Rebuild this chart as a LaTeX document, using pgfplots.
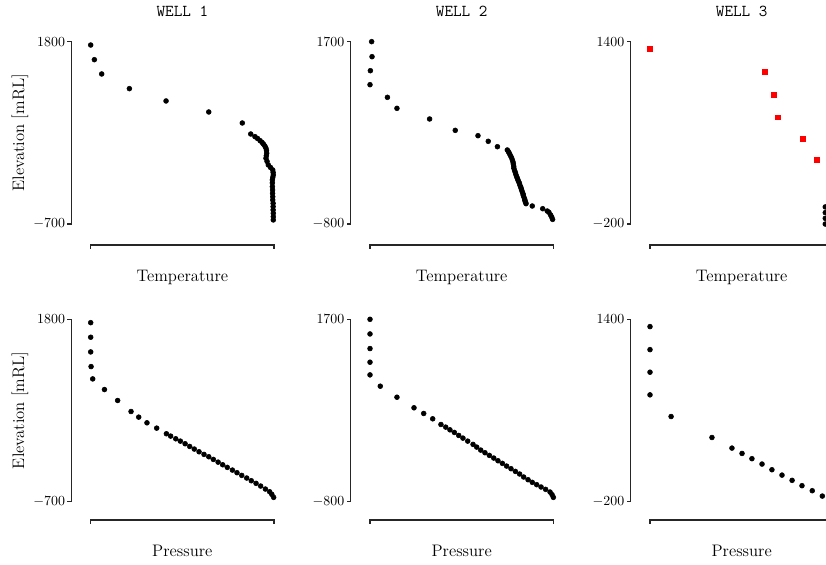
\documentclass[border=0pt]{standalone}
\usepackage{pgfplots}
\pgfplotsset{compat=1.18}
\pgfplotsset{
  wellaxis/.style={scale only axis, width=132pt, height=131.3pt, hide axis, clip=false,
    xmin=0, xmax=1, anchor=south west},
  dots/.style={only marks, mark=*, mark size=1.75pt, black},
  reddots/.style={only marks, mark=square*, mark size=1.7pt, red},
}
\tikzset{spine/.style={line width=0.8pt, black!85, line cap=rect}}
% #1 top tick label, #2 bottom tick label, #3 bottom spine offset, #4 x label
\newcommand\decor[4]{%
  \draw[spine] ([xshift=-14pt]rel axis cs:0,0) -- ([xshift=-14pt]rel axis cs:0,1);
  \draw[spine] ([xshift=-14pt]rel axis cs:0,1) -- ([xshift=-16.5pt]rel axis cs:0,1);
  \draw[spine] ([xshift=-14pt]rel axis cs:0,0) -- ([xshift=-16.5pt]rel axis cs:0,0);
  \node[anchor=east, inner sep=0pt] at ([xshift=-18.3pt]rel axis cs:0,1) {$#1$};
  \node[anchor=east, inner sep=0pt] at ([xshift=-18.3pt]rel axis cs:0,0) {$#2$};
  \draw[spine] ([yshift=-#3]rel axis cs:0,0) -- ([yshift=-#3]rel axis cs:1,0);
  \draw[spine] ([yshift=-#3]rel axis cs:0,0) -- ([yshift=-#3-2.5pt]rel axis cs:0,0);
  \draw[spine] ([yshift=-#3]rel axis cs:1,0) -- ([yshift=-#3-2.5pt]rel axis cs:1,0);
  \node[anchor=base, inner sep=0pt, font=\large] at ([yshift=-#3-26pt]rel axis cs:0.5,0) {#4};
}
\newcommand\wtitle[1]{\node[anchor=base, inner sep=0pt, font=\large\ttfamily] at ([yshift=18pt]rel axis cs:0.5,1) {#1};}
\newcommand\elev{\node[anchor=base, rotate=90, inner sep=0pt, font=\large] at ([xshift=-48pt]rel axis cs:0,0.5) {Elevation [mRL]};}
\begin{document}
\begin{tikzpicture}
\path[use as bounding box] (0,0) rectangle (594.72pt,406.8pt);
\clip (0,0) rectangle (594.72pt,406.8pt);
% ---------------- WELL 1 temperature
\begin{axis}[wellaxis, at={(65.3pt,245.5pt)}, ymin=-700, ymax=1800]
\addplot[dots] coordinates {
(0.000,1754) (0.020,1553) (0.060,1357) (0.211,1156) (0.411,987) (0.644,836)
(0.827,685) (0.873,534) (0.896,498) (0.910,473) (0.924,443) (0.935,418)
(0.942,397) (0.950,370) (0.956,339) (0.959,308) (0.960,270) (0.958,236)
(0.956,201) (0.962,158) (0.969,110) (0.981,75) (0.993,41) (0.995,7)
(0.996,-28) (0.993,-62) (0.991,-96) (0.991,-137) (0.991,-188) (0.992,-233)
(0.992,-278) (0.993,-325) (0.993,-370) (0.995,-416) (0.995,-462) (0.995,-507)
(0.996,-553) (0.996,-599) (0.996,-644)};
\decor{1800}{-700}{15.1pt}{Temperature}
\wtitle{WELL 1}
\elev
\end{axis}
% ---------------- WELL 2 temperature
\begin{axis}[wellaxis, at={(266.4pt,245.5pt)}, ymin=-800, ymax=1700]
\addplot[dots] coordinates {
(0.009,1700) (0.011,1494) (0.002,1302) (0.000,1110) (0.095,937) (0.147,786)
(0.325,640) (0.465,484) (0.589,411) (0.645,334) (0.695,260) (0.749,215)
(0.755,192) (0.760,169) (0.765,142) (0.771,114) (0.776,82) (0.780,50)
(0.782,23) (0.784,-9) (0.785,-37) (0.789,-69) (0.793,-96) (0.796,-123)
(0.800,-151) (0.804,-174) (0.807,-197) (0.811,-219) (0.815,-242) (0.818,-270)
(0.822,-293) (0.825,-315) (0.827,-334) (0.831,-361) (0.835,-388) (0.836,-407)
(0.840,-434) (0.844,-462) (0.845,-480) (0.849,-503) (0.851,-521) (0.885,-553)
(0.942,-590) (0.967,-622) (0.976,-640) (0.985,-676) (0.991,-704) (0.996,-736)};
\decor{1700}{-800}{15.1pt}{Temperature}
\wtitle{WELL 2}
\end{axis}
% ---------------- WELL 3 temperature
\begin{axis}[wellaxis, at={(468pt,245.5pt)}, ymin=-200, ymax=1400]
\addplot[reddots] coordinates {
(0.000,1336) (0.627,1137) (0.676,935) (0.695,736) (0.835,549) (0.909,362)};
\addplot[dots] coordinates {
(0.956,-50) (0.956,-100) (0.956,-150) (0.956,-200)};
\decor{1400}{-200}{15.1pt}{Temperature}
\wtitle{WELL 3}
\end{axis}
% ---------------- WELL 1 pressure
\begin{axis}[wellaxis, at={(65.3pt,45.6pt)}, ymin=-700, ymax=1800]
\addplot[dots] coordinates {
(0.000,1754) (0.000,1554) (0.000,1353) (0.002,1152) (0.011,983) (0.075,837)
(0.147,687) (0.220,536) (0.262,459) (0.307,381) (0.360,308) (0.413,231)
(0.436,199) (0.464,162) (0.489,130) (0.515,94) (0.540,57) (0.565,21)
(0.591,-16) (0.618,-52) (0.644,-84) (0.669,-121) (0.695,-158) (0.720,-194)
(0.745,-230) (0.773,-267) (0.798,-303) (0.824,-340) (0.851,-376) (0.876,-413)
(0.902,-449) (0.927,-486) (0.953,-527) (0.976,-564) (0.988,-600) (0.998,-641)};
\decor{1800}{-700}{13.2pt}{Pressure}
\elev
\end{axis}
% ---------------- WELL 2 pressure
\begin{axis}[wellaxis, at={(266.4pt,45.6pt)}, ymin=-800, ymax=1700]
\addplot[dots] coordinates {
(0.000,1700) (0.000,1499) (0.000,1299) (0.000,1112) (0.000,938) (0.056,783)
(0.147,632) (0.240,487) (0.293,409) (0.342,336) (0.387,258) (0.413,222)
(0.436,185) (0.460,149) (0.484,108) (0.507,71) (0.533,30) (0.562,-15)
(0.582,-52) (0.604,-93) (0.627,-129) (0.651,-166) (0.675,-202) (0.698,-239)
(0.722,-275) (0.745,-312) (0.769,-348) (0.793,-385) (0.816,-421) (0.838,-462)
(0.862,-499) (0.885,-535) (0.909,-567) (0.933,-599) (0.958,-631) (0.982,-668)
(0.993,-704) (1.000,-741)};
\decor{1700}{-800}{13.2pt}{Pressure}
\end{axis}
% ---------------- WELL 3 pressure
\begin{axis}[wellaxis, at={(468pt,45.6pt)}, ymin=-200, ymax=1400]
\addplot[dots] coordinates {
(0.000,1336) (0.000,1134) (0.000,936) (0.000,737) (0.115,547) (0.338,363)
(0.447,270) (0.502,223) (0.556,177) (0.611,130) (0.665,80) (0.720,33)
(0.775,-13) (0.829,-60) (0.885,-104) (0.940,-151) (0.995,-200)};
\decor{1400}{-200}{13.2pt}{Pressure}
\end{axis}
\end{tikzpicture}
\end{document}
